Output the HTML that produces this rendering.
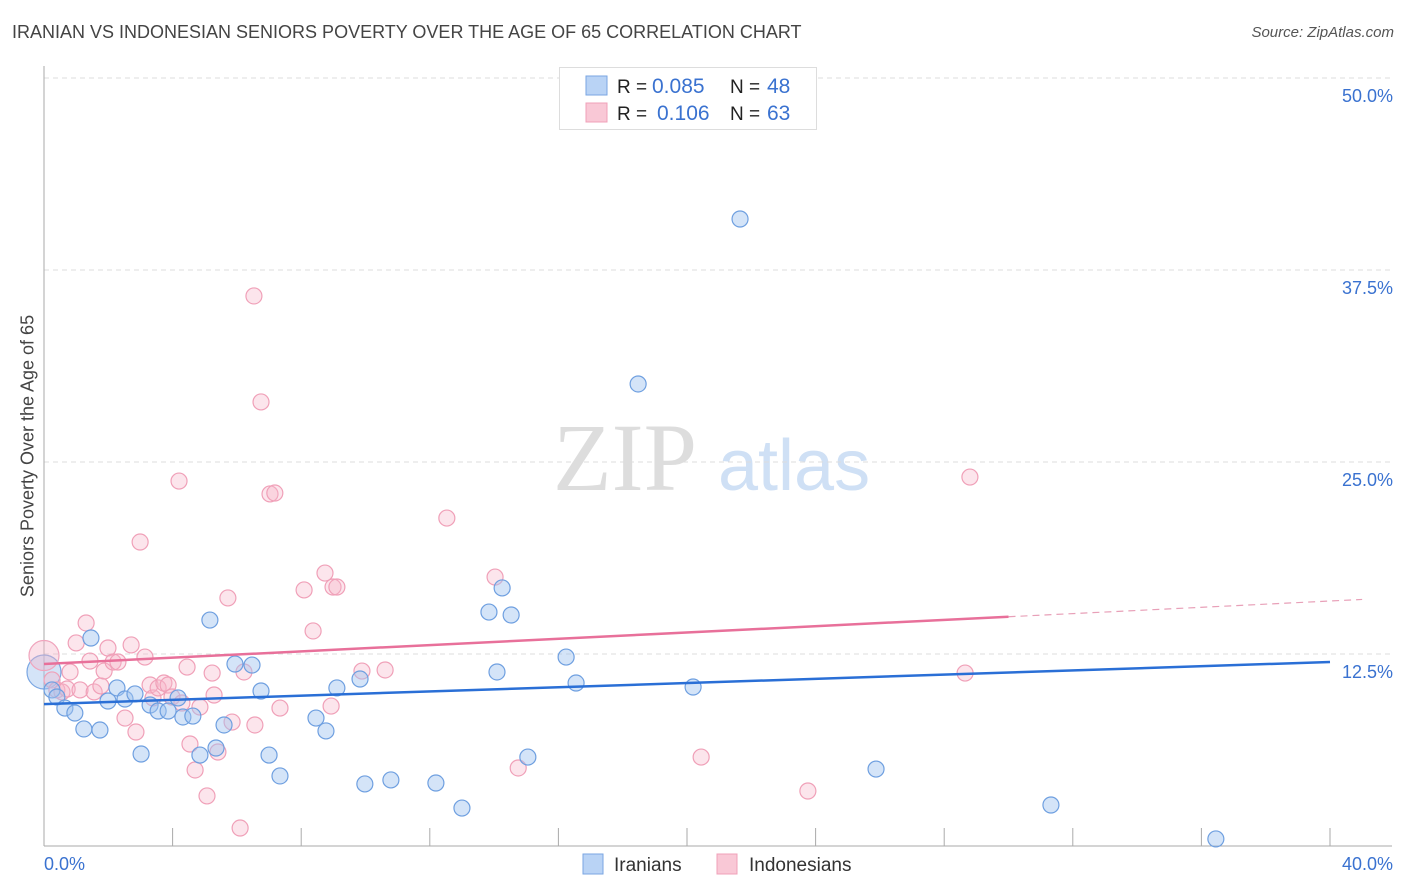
<!DOCTYPE html>
<html><head><meta charset="utf-8"><style>
body{margin:0;background:#fff;font-family:"Liberation Sans",sans-serif;}
#wrap{position:relative;width:1406px;height:892px;overflow:hidden;}
.t{position:absolute;white-space:nowrap;}
</style></head><body>
<div id="wrap">
<div class="t" style="left:12px;top:22px;font-size:18px;color:#444;">IRANIAN VS INDONESIAN SENIORS POVERTY OVER THE AGE OF 65 CORRELATION CHART</div>
<div class="t" style="right:12px;top:24px;font-size:15px;color:#555;font-style:italic;">Source: ZipAtlas.com</div>
<div class="t" style="left:28px;top:456px;font-size:18px;color:#444;transform:translate(-50%,-50%) rotate(-90deg);">Seniors Poverty Over the Age of 65</div>
<svg id="svg" width="1406" height="892" style="position:absolute;left:0;top:0"></svg>
</div>
<script>
const xTicks=[0,4,8,12,16,20,24,28,32,36,40];
const yTicks=[12.5,25,37.5,50];
const yTickLabels=["12.5%","25.0%","37.5%","50.0%"];
const iranX=[0.25,0.40,0.65,0.96,1.24,1.46,1.74,1.99,2.27,2.52,2.83,3.02,3.30,3.55,3.86,4.17,4.32,4.63,5.16,4.85,5.35,5.60,5.94,6.47,6.75,7.00,7.34,8.46,8.77,9.11,9.83,9.98,10.79,12.19,13.00,13.84,14.09,14.25,14.53,15.05,16.24,16.55,18.48,20.19,21.65,25.88,31.32,36.45];
const iranY=[10.16,9.70,8.98,8.66,7.62,13.54,7.55,9.44,10.29,9.57,9.90,5.99,9.18,8.79,8.79,9.64,8.40,8.46,14.71,5.92,6.38,7.88,11.85,11.78,10.09,5.92,4.56,8.33,7.49,10.29,10.87,4.04,4.30,4.10,2.47,15.23,11.33,16.80,15.04,5.79,12.30,10.61,30.08,10.35,40.82,5.01,2.67,0.46];
const indoX=[0.25,0.40,0.56,0.72,0.81,1.00,1.12,1.31,1.43,1.56,1.77,1.87,1.99,2.15,2.30,2.52,2.71,2.86,2.99,3.14,3.30,3.39,3.55,3.73,3.86,3.98,4.20,4.29,4.45,4.54,4.70,4.85,5.07,5.23,5.29,5.41,5.72,5.85,6.10,6.22,6.56,6.53,6.75,7.03,7.18,7.34,8.09,8.37,8.74,8.99,9.11,8.93,9.89,10.61,12.53,14.03,14.75,20.44,23.76,28.65,28.80];
const indoY=[10.81,10.16,10.03,10.22,11.33,13.22,10.16,14.52,12.04,10.03,10.42,11.39,12.89,11.98,11.98,8.33,13.09,7.42,19.79,12.30,10.48,9.64,10.29,10.61,10.48,9.70,23.76,9.31,11.65,6.64,4.95,9.05,3.26,11.26,9.83,6.12,16.15,8.07,1.17,11.33,7.88,35.81,28.91,22.92,22.98,8.98,16.67,14.00,17.77,16.86,16.86,9.11,11.39,11.46,21.35,17.51,5.08,5.79,3.58,11.26,24.02];
const iranTrend=[9.24,11.98];
const indoTrend=[11.85,15.95];
const indoSolidEnd=30;

const X=v=>44+v/40*1286;
const Y=v=>846-v*15.36;
const svg=document.getElementById('svg');
const NS='http://www.w3.org/2000/svg';
function mk(tag,attrs,parent){const e=document.createElementNS(NS,tag);for(const k in attrs)e.setAttribute(k,attrs[k]);(parent||svg).appendChild(e);return e;}

// watermark
let wm=mk('text',{x:553,y:490,'font-size':96,'font-family':'Liberation Serif,serif',fill:'#ddd'});wm.textContent='ZIP';


let wm2=mk('text',{x:718,y:490,'font-size':72,'font-family':'Liberation Sans,sans-serif',fill:'#cfe0f5'});wm2.textContent='atlas';



// gridlines
yTicks.forEach((v,i)=>{
 const g=mk('line',{x1:44,x2:1392,y1:Y(v),y2:Y(v),stroke:'#ddd','stroke-dasharray':'5,4'});
 
 
 const t=mk('text',{x:1393,y:Y(v)+24,'text-anchor':'end','font-size':18,fill:'#3a72d0'});t.textContent=yTickLabels[i];
 
 
});
// axes
const ax=mk('line',{x1:44,x2:44,y1:66,y2:846,stroke:'#aaa'});


const bx=mk('line',{x1:44,x2:1392,y1:846,y2:846,stroke:'#aaa'});


xTicks.forEach(v=>{
 const l=mk('line',{x1:X(v),x2:X(v),y1:828,y2:846,stroke:'#aaa'});
 
 
});
const xl0=mk('text',{x:44,y:870,'font-size':18,fill:'#3a72d0'});xl0.textContent='0.0%';


const xl1=mk('text',{x:1393,y:870,'text-anchor':'end','font-size':18,fill:'#3a72d0'});xl1.textContent='40.0%';



// big points
const bb=mk('circle',{cx:44,cy:Y(11.33),r:17,fill:'rgba(160,195,240,0.45)',stroke:'#7aa6e2','stroke-width':1.2});


const bp=mk('circle',{cx:44,cy:Y(12.4),r:15,fill:'rgba(245,180,200,0.4)',stroke:'#f0a5bd','stroke-width':1.2});



indoX.forEach((v,i)=>{
 const c=mk('circle',{cx:X(v),cy:Y(indoY[i]),r:8,fill:'rgba(245,180,200,0.35)',stroke:'#f0a0b8','stroke-width':1.2});
 
 
});
iranX.forEach((v,i)=>{
 const c=mk('circle',{cx:X(v),cy:Y(iranY[i]),r:8,fill:'rgba(160,195,240,0.45)',stroke:'#6e9fe0','stroke-width':1.2});
 
 
});

// trend lines
const tb=mk('line',{x1:X(0),y1:Y(iranTrend[0]),x2:X(40),y2:Y(iranTrend[1]),stroke:'#2a6fd6','stroke-width':2.5});


const pe=indoTrend[0]+(indoTrend[1]-indoTrend[0])*indoSolidEnd/40;
const tp=mk('line',{x1:X(0),y1:Y(indoTrend[0]),x2:X(indoSolidEnd),y2:Y(pe),stroke:'#e8709a','stroke-width':2.5});


const tpd=mk('line',{x1:X(indoSolidEnd),y1:Y(pe),x2:X(41),y2:Y(indoTrend[0]+(indoTrend[1]-indoTrend[0])*41/40),stroke:'#e8a0b8','stroke-width':1.2,'stroke-dasharray':'7,5'});



// top legend
const lg=mk('g',{});


mk('rect',{x:559.5,y:67.5,width:257,height:62,fill:'#fff',stroke:'#ddd'},lg);
mk('rect',{x:586,y:76,width:21,height:19,fill:'#b9d3f5',stroke:'#7aa6e2'},lg);
mk('rect',{x:586,y:103,width:21,height:19,fill:'#f9c8d6',stroke:'#f0a0b8'},lg);
const rows=[["0.085","48",93],["0.106","63",120]];
rows.forEach(r=>{
 const a=mk('text',{x:617,y:r[2],'font-size':19,fill:'#222'},lg);a.textContent='R =';
 const b=mk('text',{x:r[0]==="0.106"?657:652,y:r[2],'font-size':21,fill:'#3a72d0'},lg);b.textContent=r[0];
 const c=mk('text',{x:730,y:r[2],'font-size':19,fill:'#222'},lg);c.textContent='N =';
 const d=mk('text',{x:767,y:r[2],'font-size':21,fill:'#3a72d0'},lg);d.textContent=r[1];
});

// bottom legend
const bl=mk('g',{});


mk('rect',{x:583,y:854,width:20,height:20,fill:'#b9d3f5',stroke:'#7aa6e2'},bl);
const l1=mk('text',{x:614,y:871,'font-size':19,fill:'#333'},bl);l1.textContent='Iranians';


mk('rect',{x:717,y:854,width:20,height:20,fill:'#f9c8d6',stroke:'#f0a0b8'},bl);
const l2=mk('text',{x:749,y:871,'font-size':19,fill:'#333'},bl);l2.textContent='Indonesians';


</script>
</body></html>
